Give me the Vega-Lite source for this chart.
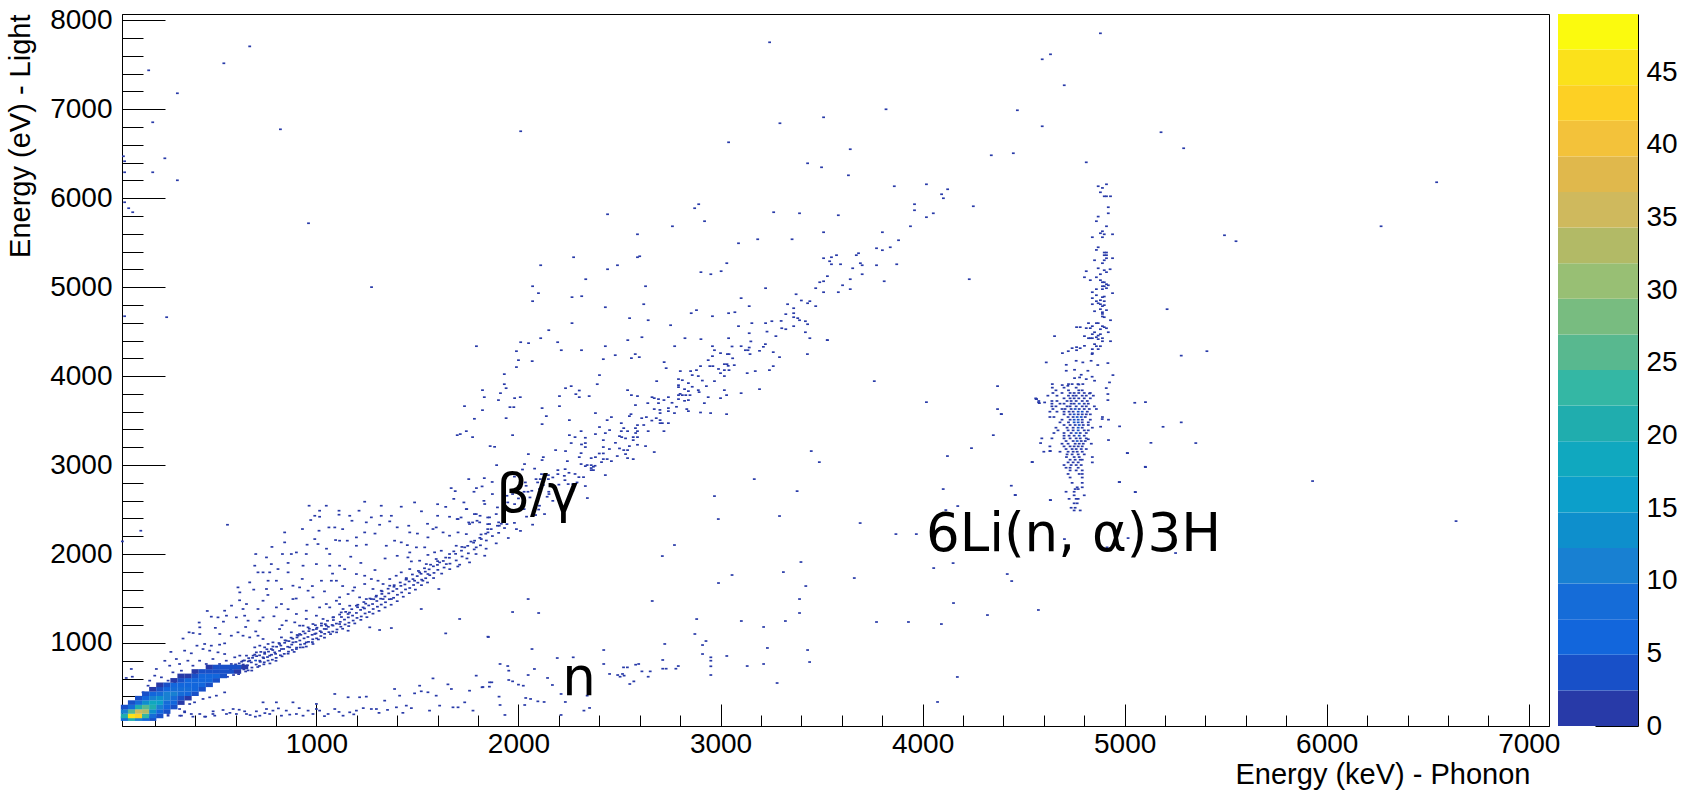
{"$schema":"https://vega.github.io/schema/vega-lite/v6.json","padding":{"left":5,"top":5,"right":0,"bottom":0},"background":"white","bounds":"flush","spacing":9,"config":{"axis":{"grid":false,"domainColor":"black","tickColor":"black","labelColor":"black","titleColor":"black","labelFont":"Liberation Sans","titleFont":"Liberation Sans","labelFontSize":28,"titleFontSize":29,"titleFontWeight":"normal","tickWidth":1,"domainWidth":1,"format":"d"},"view":{"stroke":"black"}},"datasets":{"cells":[
{"x":670,"y":7707,"n":1},{"x":542,"y":7516,"n":1},{"x":170,"y":7437,"n":1},{"x":312,"y":7179,"n":1},{"x":190,"y":6853,"n":1},{"x":822,"y":6774,"n":1},{"x":2011,"y":6752,"n":1},{"x":250,"y":6448,"n":1},{"x":45,"y":6471,"n":1},{"x":51,"y":6415,"n":1},{"x":51,"y":6291,"n":1},{"x":190,"y":6291,"n":1},{"x":312,"y":6201,"n":1},{"x":51,"y":5954,"n":1},{"x":71,"y":5887,"n":1},{"x":91,"y":5842,"n":1},{"x":961,"y":5718,"n":1},{"x":1273,"y":5000,"n":1},{"x":51,"y":4673,"n":1},{"x":259,"y":4662,"n":1},{"x":3243,"y":7752,"n":1},{"x":3294,"y":6842,"n":1},{"x":3040,"y":6628,"n":1},{"x":3431,"y":6392,"n":1},{"x":3500,"y":6347,"n":1},{"x":2441,"y":5819,"n":1},{"x":2892,"y":5932,"n":1},{"x":2872,"y":5887,"n":1},{"x":3263,"y":5842,"n":1},{"x":3391,"y":5830,"n":1},{"x":2921,"y":5741,"n":1},{"x":2762,"y":5684,"n":1},{"x":2589,"y":5594,"n":1},{"x":3089,"y":5493,"n":1},{"x":3184,"y":5538,"n":1},{"x":3354,"y":5538,"n":1},{"x":2273,"y":5336,"n":1},{"x":2600,"y":5347,"n":1},{"x":2589,"y":5336,"n":1},{"x":2110,"y":5246,"n":1},{"x":2490,"y":5246,"n":1},{"x":2441,"y":5201,"n":1},{"x":3031,"y":5269,"n":1},{"x":2903,"y":5168,"n":1},{"x":2952,"y":5145,"n":1},{"x":3003,"y":5179,"n":1},{"x":2333,"y":5089,"n":1},{"x":2070,"y":5010,"n":1},{"x":2629,"y":5010,"n":1},{"x":3223,"y":4988,"n":1},{"x":3491,"y":5055,"n":1},{"x":3471,"y":4988,"n":1},{"x":2099,"y":4932,"n":1},{"x":2265,"y":4887,"n":1},{"x":2313,"y":4898,"n":1},{"x":2070,"y":4842,"n":1},{"x":2430,"y":4774,"n":1},{"x":2620,"y":4808,"n":1},{"x":3102,"y":4876,"n":1},{"x":3374,"y":4920,"n":1},{"x":3442,"y":4842,"n":1},{"x":3431,"y":4819,"n":1},{"x":3332,"y":4808,"n":1},{"x":3142,"y":4786,"n":1},{"x":3471,"y":4786,"n":1},{"x":3362,"y":4763,"n":1},{"x":2881,"y":4741,"n":1},{"x":2855,"y":4707,"n":1},{"x":3040,"y":4707,"n":1},{"x":3071,"y":4718,"n":1},{"x":3323,"y":4696,"n":1},{"x":3362,"y":4707,"n":1},{"x":2960,"y":4673,"n":1},{"x":3362,"y":4662,"n":1},{"x":3382,"y":4651,"n":1},{"x":2550,"y":4651,"n":1},{"x":2642,"y":4628,"n":1},{"x":3391,"y":4628,"n":1},{"x":3420,"y":4617,"n":1},{"x":3254,"y":4617,"n":1},{"x":2265,"y":4595,"n":1},{"x":3155,"y":4595,"n":1},{"x":3223,"y":4595,"n":1},{"x":3431,"y":4583,"n":1},{"x":2753,"y":4572,"n":1},{"x":3089,"y":4561,"n":1},{"x":3362,"y":4561,"n":1},{"x":3303,"y":4538,"n":1},{"x":3323,"y":4527,"n":1},{"x":2150,"y":4516,"n":1},{"x":3420,"y":4493,"n":1},{"x":3142,"y":4482,"n":1},{"x":3274,"y":4449,"n":1},{"x":2110,"y":4426,"n":1},{"x":2611,"y":4437,"n":1},{"x":2824,"y":4426,"n":1},{"x":2903,"y":4415,"n":1},{"x":3040,"y":4426,"n":1},{"x":3442,"y":4426,"n":1},{"x":2541,"y":4404,"n":1},{"x":2011,"y":4381,"n":1},{"x":2050,"y":4370,"n":1},{"x":2194,"y":4381,"n":1},
{"x":4880,"y":7853,"n":1},{"x":4633,"y":7617,"n":1},{"x":4592,"y":7561,"n":1},{"x":4701,"y":7269,"n":1},{"x":3819,"y":6999,"n":1},{"x":3510,"y":6909,"n":1},{"x":4469,"y":6988,"n":1},{"x":4592,"y":6808,"n":1},{"x":5180,"y":6741,"n":1},{"x":5292,"y":6561,"n":1},{"x":3642,"y":6550,"n":1},{"x":4340,"y":6482,"n":1},{"x":4449,"y":6505,"n":1},{"x":4810,"y":6403,"n":1},{"x":3633,"y":6257,"n":1},{"x":3860,"y":6134,"n":1},{"x":4019,"y":6156,"n":1},{"x":4124,"y":6100,"n":1},{"x":4094,"y":6044,"n":1},{"x":4103,"y":5999,"n":1},{"x":3960,"y":5932,"n":1},{"x":3960,"y":5864,"n":1},{"x":4251,"y":5909,"n":1},{"x":4053,"y":5830,"n":1},{"x":4019,"y":5786,"n":1},{"x":3583,"y":5808,"n":1},{"x":3940,"y":5684,"n":1},{"x":3510,"y":5617,"n":1},{"x":3801,"y":5617,"n":1},{"x":3881,"y":5527,"n":1},{"x":3840,"y":5448,"n":1},{"x":3772,"y":5437,"n":1},{"x":3801,"y":5415,"n":1},{"x":3683,"y":5381,"n":1},{"x":3672,"y":5359,"n":1},{"x":3574,"y":5359,"n":1},{"x":3510,"y":5325,"n":1},{"x":3549,"y":5336,"n":1},{"x":3540,"y":5291,"n":1},{"x":3549,"y":5257,"n":1},{"x":3594,"y":5257,"n":1},{"x":3692,"y":5269,"n":1},{"x":3701,"y":5246,"n":1},{"x":3772,"y":5246,"n":1},{"x":3872,"y":5257,"n":1},{"x":3654,"y":5212,"n":1},{"x":3701,"y":5145,"n":1},{"x":3529,"y":5123,"n":1},{"x":3642,"y":5089,"n":1},{"x":3810,"y":5066,"n":1},{"x":4231,"y":5089,"n":1},{"x":3510,"y":5066,"n":1},{"x":3604,"y":5021,"n":1},{"x":3642,"y":4977,"n":1},{"x":3510,"y":4943,"n":1},{"x":3583,"y":4943,"n":1},{"x":3529,"y":4404,"n":1},{"x":4653,"y":4449,"n":1},{"x":5407,"y":4280,"n":1},{"x":5210,"y":4752,"n":1},{"x":6544,"y":6179,"n":1},{"x":6269,"y":5684,"n":1},{"x":5494,"y":5583,"n":1},{"x":5551,"y":5516,"n":1},
{"x":4910,"y":6156,"n":1},{"x":4869,"y":6134,"n":1},{"x":4890,"y":6115,"n":2},{"x":4880,"y":6066,"n":1},{"x":4899,"y":6021,"n":1},{"x":4910,"y":6021,"n":1},{"x":4930,"y":6021,"n":1},{"x":4919,"y":5898,"n":1},{"x":4919,"y":5830,"n":1},{"x":4869,"y":5793,"n":2},{"x":4860,"y":5741,"n":1},{"x":4910,"y":5684,"n":1},{"x":4890,"y":5628,"n":1},{"x":4880,"y":5606,"n":1},{"x":4899,"y":5594,"n":1},{"x":4940,"y":5594,"n":1},{"x":4840,"y":5561,"n":1},{"x":4890,"y":5561,"n":1},{"x":4869,"y":5448,"n":1},{"x":4860,"y":5418,"n":2},{"x":4899,"y":5389,"n":1},{"x":4910,"y":5389,"n":1},{"x":4899,"y":5359,"n":1},{"x":4910,"y":5359,"n":1},{"x":4910,"y":5325,"n":1},{"x":4940,"y":5325,"n":1},{"x":4851,"y":5302,"n":1},{"x":4899,"y":5302,"n":1},{"x":4890,"y":5269,"n":1},{"x":4869,"y":5212,"n":1},{"x":4928,"y":5201,"n":1},{"x":4899,"y":5190,"n":1},{"x":4910,"y":5168,"n":1},{"x":4810,"y":5179,"n":1},{"x":4880,"y":5145,"n":1},{"x":4801,"y":5111,"n":1},{"x":4860,"y":5111,"n":1},{"x":4830,"y":5078,"n":1},{"x":4880,"y":5078,"n":1},{"x":4890,"y":5055,"n":1},{"x":4899,"y":5055,"n":1},{"x":4910,"y":5033,"n":1},{"x":4919,"y":5021,"n":1},{"x":4890,"y":5010,"n":1},{"x":4899,"y":5010,"n":1},{"x":4910,"y":4988,"n":1},{"x":4860,"y":4977,"n":1},{"x":4890,"y":4977,"n":1},{"x":4840,"y":4943,"n":2},{"x":4940,"y":4932,"n":1},{"x":4860,"y":4909,"n":1},{"x":4899,"y":4894,"n":2},{"x":4890,"y":4887,"n":1},{"x":4840,"y":4876,"n":1},{"x":4880,"y":4853,"n":1},{"x":4860,"y":4842,"n":1},{"x":4899,"y":4842,"n":2},{"x":4869,"y":4819,"n":1},{"x":4840,"y":4808,"n":1},{"x":4880,"y":4808,"n":1},{"x":4899,"y":4797,"n":1},{"x":4890,"y":4786,"n":1},{"x":4880,"y":4752,"n":1},{"x":4910,"y":4741,"n":1},{"x":4851,"y":4729,"n":2},{"x":4890,"y":4718,"n":1},{"x":4890,"y":4699,"n":1},{"x":4890,"y":4670,"n":1},{"x":4899,"y":4662,"n":1},{"x":4930,"y":4628,"n":1},{"x":4821,"y":4595,"n":1},{"x":4860,"y":4595,"n":1},{"x":4869,"y":4595,"n":1},{"x":4840,"y":4561,"n":1},{"x":4890,"y":4561,"n":1},{"x":4899,"y":4550,"n":1},{"x":4910,"y":4538,"n":1},{"x":4762,"y":4550,"n":1},{"x":4780,"y":4550,"n":1},{"x":4810,"y":4539,"n":1},{"x":4830,"y":4539,"n":1},{"x":4880,"y":4527,"n":1},{"x":4851,"y":4493,"n":2},{"x":4919,"y":4493,"n":1},{"x":4840,"y":4471,"n":1},{"x":4880,"y":4471,"n":1},{"x":4801,"y":4449,"n":1},{"x":4869,"y":4456,"n":1},{"x":4821,"y":4426,"n":1},{"x":4830,"y":4426,"n":1},{"x":4840,"y":4426,"n":1},{"x":4860,"y":4437,"n":1},{"x":4869,"y":4415,"n":1},{"x":4890,"y":4426,"n":1},{"x":4930,"y":4392,"n":1},{"x":4890,"y":4392,"n":1},{"x":4801,"y":4340,"n":2},{"x":4851,"y":4359,"n":1},{"x":4880,"y":4336,"n":1},{"x":4860,"y":4336,"n":1},{"x":4740,"y":4314,"n":1},{"x":4762,"y":4325,"n":1},{"x":4780,"y":4314,"n":1},{"x":4840,"y":4303,"n":1},{"x":4869,"y":4303,"n":1},{"x":4762,"y":4291,"n":1},{"x":4721,"y":4280,"n":1},{"x":4692,"y":4258,"n":1},{"x":4840,"y":4258,"n":1},
{"x":4839,"y":4247,"n":1},{"x":4612,"y":4154,"n":1},{"x":4711,"y":4127,"n":1},{"x":4760,"y":4172,"n":1},{"x":4793,"y":4154,"n":1},{"x":4834,"y":4172,"n":1},{"x":4917,"y":4146,"n":1},{"x":4711,"y":4060,"n":1},{"x":4752,"y":4071,"n":1},{"x":4785,"y":4015,"n":1},{"x":4818,"y":4060,"n":1},{"x":4839,"y":3993,"n":1},{"x":4867,"y":4124,"n":1},{"x":4752,"y":3977,"n":1},{"x":4777,"y":3985,"n":1},{"x":4810,"y":3966,"n":1},{"x":4851,"y":3948,"n":1},{"x":4942,"y":4011,"n":1},{"x":4925,"y":3929,"n":1},{"x":4740,"y":3910,"n":1},{"x":4691,"y":3899,"n":1},{"x":4719,"y":3891,"n":1},{"x":4769,"y":3910,"n":1},{"x":4793,"y":3910,"n":1},{"x":4826,"y":3805,"n":1},{"x":4909,"y":3865,"n":1},{"x":4917,"y":3798,"n":1},{"x":4917,"y":3730,"n":1},{"x":5103,"y":3708,"n":1},{"x":4389,"y":3573,"n":1},{"x":4562,"y":3742,"n":1},{"x":4574,"y":3704,"n":1},{"x":4604,"y":3704,"n":1},{"x":4975,"y":3435,"n":1},{"x":4889,"y":3517,"n":1},{"x":4881,"y":3431,"n":1},{"x":4920,"y":3281,"n":1},{"x":4584,"y":3247,"n":1},{"x":5013,"y":3135,"n":1},{"x":5102,"y":2981,"n":1},{"x":4543,"y":3034,"n":1},{"x":4632,"y":3158,"n":1},{"x":4975,"y":2809,"n":1},{"x":5052,"y":2697,"n":1},{"x":4439,"y":2768,"n":1},{"x":4459,"y":2663,"n":1},{"x":4632,"y":2607,"n":1},
{"x":4642,"y":3910,"n":1},{"x":4722,"y":3910,"n":1},{"x":4773,"y":3905,"n":1},{"x":4642,"y":3870,"n":1},{"x":4700,"y":3870,"n":1},{"x":4760,"y":3870,"n":2},{"x":4660,"y":3840,"n":1},{"x":4722,"y":3840,"n":1},{"x":4773,"y":3840,"n":2},{"x":4790,"y":3840,"n":1},{"x":4645,"y":3810,"n":1},{"x":4690,"y":3810,"n":1},{"x":4730,"y":3810,"n":1},{"x":4750,"y":3810,"n":1},{"x":4773,"y":3810,"n":2},{"x":4800,"y":3810,"n":1},{"x":4830,"y":3810,"n":1},{"x":4620,"y":3780,"n":1},{"x":4665,"y":3780,"n":1},{"x":4722,"y":3780,"n":1},{"x":4745,"y":3780,"n":1},{"x":4760,"y":3780,"n":2},{"x":4790,"y":3780,"n":1},{"x":4810,"y":3780,"n":1},{"x":4845,"y":3780,"n":1},{"x":4560,"y":3750,"n":1},{"x":4700,"y":3750,"n":1},{"x":4730,"y":3750,"n":1},{"x":4750,"y":3750,"n":2},{"x":4773,"y":3750,"n":2},{"x":4800,"y":3750,"n":1},{"x":4830,"y":3750,"n":1},{"x":4575,"y":3720,"n":1},{"x":4640,"y":3720,"n":1},{"x":4665,"y":3720,"n":1},{"x":4715,"y":3720,"n":1},{"x":4735,"y":3720,"n":2},{"x":4760,"y":3720,"n":1},{"x":4790,"y":3720,"n":2},{"x":4815,"y":3720,"n":1},{"x":4640,"y":3690,"n":1},{"x":4680,"y":3690,"n":1},{"x":4700,"y":3690,"n":1},{"x":4735,"y":3690,"n":1},{"x":4750,"y":3690,"n":2},{"x":4775,"y":3690,"n":3},{"x":4800,"y":3690,"n":1},{"x":4820,"y":3690,"n":1},{"x":4640,"y":3660,"n":1},{"x":4660,"y":3660,"n":1},{"x":4715,"y":3660,"n":1},{"x":4730,"y":3660,"n":1},{"x":4760,"y":3660,"n":2},{"x":4790,"y":3660,"n":2},{"x":4810,"y":3660,"n":1},{"x":4850,"y":3660,"n":1},{"x":4645,"y":3630,"n":1},{"x":4690,"y":3630,"n":1},{"x":4705,"y":3630,"n":2},{"x":4735,"y":3630,"n":1},{"x":4755,"y":3630,"n":3},{"x":4775,"y":3630,"n":2},{"x":4800,"y":3630,"n":1},{"x":4825,"y":3630,"n":1},{"x":4860,"y":3630,"n":1},{"x":4630,"y":3600,"n":1},{"x":4665,"y":3600,"n":1},{"x":4700,"y":3600,"n":1},{"x":4725,"y":3600,"n":2},{"x":4745,"y":3600,"n":1},{"x":4770,"y":3600,"n":3},{"x":4790,"y":3600,"n":3},{"x":4815,"y":3600,"n":1},{"x":4700,"y":3570,"n":2},{"x":4730,"y":3570,"n":1},{"x":4750,"y":3570,"n":3},{"x":4770,"y":3570,"n":2},{"x":4790,"y":3570,"n":2},{"x":4810,"y":3570,"n":1},{"x":4830,"y":3570,"n":1},{"x":4630,"y":3540,"n":1},{"x":4650,"y":3540,"n":1},{"x":4720,"y":3540,"n":1},{"x":4745,"y":3540,"n":2},{"x":4765,"y":3540,"n":4},{"x":4785,"y":3540,"n":3},{"x":4805,"y":3540,"n":1},{"x":4890,"y":3540,"n":1},{"x":4690,"y":3510,"n":1},{"x":4730,"y":3510,"n":1},{"x":4750,"y":3510,"n":3},{"x":4770,"y":3510,"n":3},{"x":4790,"y":3510,"n":2},{"x":4830,"y":3510,"n":1},{"x":4920,"y":3510,"n":1},{"x":4680,"y":3480,"n":1},{"x":4722,"y":3480,"n":1},{"x":4750,"y":3480,"n":3},{"x":4770,"y":3480,"n":4},{"x":4790,"y":3480,"n":2},{"x":4820,"y":3480,"n":1},{"x":4700,"y":3450,"n":1},{"x":4730,"y":3450,"n":1},{"x":4755,"y":3450,"n":2},{"x":4775,"y":3450,"n":4},{"x":4795,"y":3450,"n":2},{"x":4820,"y":3450,"n":1},{"x":4660,"y":3420,"n":1},{"x":4715,"y":3420,"n":1},{"x":4745,"y":3420,"n":2},{"x":4770,"y":3420,"n":3},{"x":4790,"y":3420,"n":2},{"x":4840,"y":3420,"n":1},{"x":4670,"y":3390,"n":1},{"x":4720,"y":3390,"n":1},{"x":4745,"y":3390,"n":1},{"x":4770,"y":3390,"n":3},{"x":4800,"y":3390,"n":2},{"x":4820,"y":3390,"n":1},{"x":4650,"y":3360,"n":2},{"x":4700,"y":3360,"n":1},{"x":4735,"y":3360,"n":1},{"x":4760,"y":3360,"n":3},{"x":4780,"y":3360,"n":2},{"x":4810,"y":3360,"n":1},{"x":4700,"y":3330,"n":1},{"x":4725,"y":3330,"n":1},{"x":4750,"y":3330,"n":2},{"x":4775,"y":3330,"n":3},{"x":4800,"y":3330,"n":1},{"x":4590,"y":3300,"n":1},{"x":4640,"y":3300,"n":1},{"x":4700,"y":3300,"n":1},{"x":4730,"y":3300,"n":2},{"x":4760,"y":3300,"n":2},{"x":4780,"y":3300,"n":2},{"x":4810,"y":3300,"n":2},{"x":4820,"y":3290,"n":1},{"x":4710,"y":3270,"n":1},{"x":4745,"y":3270,"n":1},{"x":4765,"y":3270,"n":3},{"x":4785,"y":3270,"n":1},{"x":4805,"y":3270,"n":1},{"x":4690,"y":3240,"n":1},{"x":4720,"y":3240,"n":1},{"x":4755,"y":3240,"n":1},{"x":4775,"y":3240,"n":2},{"x":4795,"y":3240,"n":1},{"x":4835,"y":3240,"n":1},{"x":4630,"y":3210,"n":1},{"x":4700,"y":3210,"n":1},{"x":4730,"y":3210,"n":1},{"x":4750,"y":3210,"n":1},{"x":4770,"y":3210,"n":1},{"x":4790,"y":3210,"n":1},{"x":4710,"y":3180,"n":1},{"x":4740,"y":3180,"n":1},{"x":4760,"y":3180,"n":2},{"x":4785,"y":3180,"n":1},{"x":4810,"y":3180,"n":1},{"x":4600,"y":3150,"n":1},{"x":4680,"y":3150,"n":1},{"x":4720,"y":3150,"n":1},{"x":4745,"y":3150,"n":1},{"x":4765,"y":3150,"n":1},{"x":4790,"y":3150,"n":1},{"x":4715,"y":3120,"n":1},{"x":4740,"y":3120,"n":2},{"x":4770,"y":3120,"n":1},{"x":4800,"y":3120,"n":1},{"x":4712,"y":3090,"n":2},{"x":4750,"y":3090,"n":1},{"x":4775,"y":3090,"n":1},{"x":4840,"y":3090,"n":1},{"x":4730,"y":3060,"n":1},{"x":4755,"y":3060,"n":2},{"x":4780,"y":3060,"n":1},{"x":4790,"y":3060,"n":1},{"x":4720,"y":3030,"n":1},{"x":4745,"y":3030,"n":1},{"x":4770,"y":3030,"n":1},{"x":4840,"y":3030,"n":1},{"x":4700,"y":3000,"n":1},{"x":4735,"y":3000,"n":1},{"x":4760,"y":3000,"n":1},{"x":4785,"y":3000,"n":1},{"x":4710,"y":2970,"n":1},{"x":4730,"y":2970,"n":1},{"x":4770,"y":2970,"n":1},{"x":4730,"y":2940,"n":1},{"x":4760,"y":2940,"n":1},{"x":4790,"y":2940,"n":1},{"x":4720,"y":2900,"n":1},{"x":4775,"y":2900,"n":1},{"x":4790,"y":2900,"n":1},{"x":4730,"y":2860,"n":1},{"x":4790,"y":2860,"n":1},{"x":4740,"y":2800,"n":1},{"x":4790,"y":2800,"n":1},{"x":4765,"y":2750,"n":1},{"x":4790,"y":2750,"n":1},{"x":4755,"y":2730,"n":1},{"x":4770,"y":2730,"n":1},{"x":4710,"y":2700,"n":1},{"x":4750,"y":2700,"n":1},{"x":4750,"y":2660,"n":1},{"x":4800,"y":2660,"n":1},{"x":4725,"y":2620,"n":1},{"x":4760,"y":2620,"n":1},{"x":4770,"y":2620,"n":1},{"x":4750,"y":2570,"n":1},{"x":4765,"y":2570,"n":1},{"x":4735,"y":2520,"n":1},{"x":4755,"y":2520,"n":1},{"x":4750,"y":2490,"n":1},{"x":4780,"y":2490,"n":1},
{"x":1792,"y":4336,"n":1},{"x":1990,"y":4280,"n":1},{"x":2212,"y":4291,"n":1},{"x":2312,"y":4291,"n":1},{"x":2430,"y":4336,"n":1},{"x":2773,"y":4336,"n":1},{"x":2960,"y":4336,"n":1},{"x":2970,"y":4291,"n":1},{"x":3000,"y":4258,"n":1},{"x":3034,"y":4247,"n":1},{"x":3042,"y":4247,"n":1},{"x":3057,"y":4333,"n":1},{"x":3102,"y":4336,"n":1},{"x":3123,"y":4291,"n":1},{"x":3136,"y":4291,"n":1},{"x":3142,"y":4321,"n":1},{"x":3146,"y":4247,"n":1},{"x":3193,"y":4284,"n":1},{"x":3212,"y":4329,"n":1},{"x":3222,"y":4359,"n":1},{"x":3261,"y":4269,"n":1},{"x":3292,"y":4213,"n":1},{"x":3430,"y":4247,"n":1},{"x":3528,"y":4404,"n":1},{"x":2000,"y":4179,"n":1},{"x":2068,"y":4168,"n":1},{"x":1990,"y":4101,"n":1},{"x":2420,"y":4190,"n":1},{"x":2479,"y":4235,"n":1},{"x":2559,"y":4202,"n":1},{"x":2578,"y":4247,"n":1},{"x":2598,"y":4213,"n":1},{"x":2721,"y":4157,"n":1},{"x":2731,"y":4089,"n":1},{"x":2801,"y":4056,"n":1},{"x":2852,"y":4056,"n":1},{"x":2881,"y":4067,"n":1},{"x":2860,"y":4011,"n":1},{"x":2890,"y":4000,"n":1},{"x":2901,"y":4112,"n":1},{"x":2939,"y":4179,"n":1},{"x":2960,"y":4224,"n":1},{"x":2947,"y":4112,"n":1},{"x":2962,"y":4112,"n":1},{"x":3000,"y":4033,"n":1},{"x":3019,"y":4134,"n":1},{"x":3032,"y":4134,"n":1},{"x":3038,"y":4115,"n":1},{"x":3068,"y":4123,"n":1},{"x":3019,"y":4067,"n":1},{"x":3042,"y":4067,"n":1},{"x":3019,"y":4000,"n":1},{"x":3132,"y":4033,"n":1},{"x":3172,"y":4056,"n":1},{"x":3242,"y":4067,"n":1},{"x":3261,"y":4112,"n":1},{"x":1930,"y":4022,"n":1},{"x":2401,"y":4011,"n":1},{"x":1930,"y":3909,"n":1},{"x":1939,"y":3864,"n":1},{"x":2390,"y":3909,"n":1},{"x":1822,"y":3842,"n":1},{"x":1911,"y":3808,"n":1},{"x":1831,"y":3763,"n":1},{"x":1901,"y":3730,"n":1},{"x":1981,"y":3752,"n":1},{"x":2009,"y":3763,"n":1},{"x":2233,"y":3864,"n":1},{"x":2261,"y":3887,"n":1},{"x":2301,"y":3838,"n":2},{"x":2284,"y":3797,"n":1},{"x":2301,"y":3763,"n":1},{"x":2350,"y":3775,"n":1},{"x":2203,"y":3775,"n":1},{"x":1733,"y":3662,"n":1},{"x":1822,"y":3617,"n":1},{"x":1958,"y":3651,"n":1},{"x":1977,"y":3651,"n":1},{"x":2117,"y":3640,"n":1},{"x":2203,"y":3662,"n":1},{"x":1782,"y":3520,"n":1},{"x":1939,"y":3527,"n":1},{"x":2138,"y":3550,"n":1},{"x":2117,"y":3460,"n":1},{"x":2252,"y":3505,"n":1},{"x":2381,"y":3584,"n":1},{"x":2439,"y":3505,"n":1},{"x":2460,"y":3539,"n":1},{"x":2557,"y":3572,"n":1},{"x":2549,"y":3550,"n":1},{"x":2610,"y":3527,"n":1},{"x":2633,"y":3539,"n":1},{"x":2540,"y":3842,"n":1},{"x":2559,"y":3786,"n":1},{"x":2589,"y":3775,"n":1},{"x":2579,"y":3674,"n":1},{"x":2640,"y":3696,"n":1},{"x":2661,"y":3763,"n":1},{"x":2672,"y":3752,"n":1},{"x":2693,"y":3741,"n":1},{"x":2720,"y":3730,"n":1},{"x":2742,"y":3763,"n":1},{"x":2672,"y":3629,"n":1},{"x":2693,"y":3696,"n":1},{"x":2684,"y":3943,"n":1},{"x":2792,"y":3966,"n":1},{"x":2811,"y":3954,"n":1},{"x":2792,"y":3898,"n":1},{"x":2792,"y":3876,"n":1},{"x":2822,"y":3853,"n":1},{"x":2841,"y":3921,"n":1},{"x":2841,"y":3831,"n":1},{"x":2890,"y":3842,"n":1},{"x":2894,"y":3820,"n":1},{"x":2930,"y":3887,"n":1},{"x":2970,"y":3943,"n":1},{"x":3019,"y":3842,"n":1},{"x":3030,"y":3786,"n":1},{"x":3000,"y":3752,"n":1},{"x":2939,"y":3763,"n":1},{"x":3102,"y":3808,"n":2},{"x":3193,"y":3853,"n":1},{"x":2792,"y":3786,"n":1},{"x":2811,"y":3786,"n":1},{"x":2828,"y":3786,"n":1},{"x":2849,"y":3786,"n":1},{"x":2792,"y":3741,"n":1},{"x":2822,"y":3722,"n":1},{"x":2841,"y":3730,"n":1},{"x":2742,"y":3640,"n":1},{"x":2782,"y":3655,"n":1},{"x":2742,"y":3606,"n":1},{"x":2772,"y":3584,"n":1},{"x":2833,"y":3629,"n":1},{"x":2841,"y":3606,"n":1},{"x":2901,"y":3591,"n":1},{"x":2951,"y":3584,"n":1},{"x":3030,"y":3572,"n":1},{"x":2920,"y":3696,"n":1},{"x":2701,"y":3584,"n":2},{"x":2682,"y":3527,"n":1},{"x":2701,"y":3505,"n":1},{"x":2701,"y":3471,"n":1},{"x":2712,"y":3471,"n":1},{"x":2742,"y":3471,"n":1},{"x":2720,"y":3381,"n":1},{"x":2642,"y":3381,"n":1},{"x":2589,"y":3449,"n":1},{"x":2579,"y":3415,"n":1},{"x":2589,"y":3381,"n":1},{"x":2509,"y":3471,"n":1},{"x":2521,"y":3415,"n":1},{"x":2509,"y":3381,"n":1},{"x":2540,"y":3381,"n":1},{"x":2451,"y":3393,"n":1},{"x":2401,"y":3427,"n":1},{"x":2381,"y":3348,"n":1},{"x":2430,"y":3359,"n":1},{"x":2310,"y":3381,"n":1},{"x":2331,"y":3307,"n":1},{"x":2280,"y":3314,"n":1},{"x":2252,"y":3336,"n":1},{"x":2312,"y":3232,"n":1},{"x":2261,"y":3247,"n":1},{"x":2331,"y":3247,"n":1},{"x":2331,"y":3202,"n":1},{"x":2420,"y":3280,"n":1},{"x":2420,"y":3202,"n":1},{"x":2500,"y":3325,"n":1},{"x":2511,"y":3314,"n":1},{"x":2568,"y":3280,"n":1},{"x":2589,"y":3314,"n":1},{"x":2568,"y":3314,"n":1},{"x":2589,"y":3228,"n":1},{"x":2549,"y":3213,"n":1},{"x":2629,"y":3213,"n":1},{"x":2672,"y":3146,"n":1},{"x":2500,"y":3187,"n":1},{"x":2521,"y":3168,"n":1},{"x":2540,"y":3168,"n":1},{"x":2530,"y":3123,"n":1},{"x":2540,"y":3078,"n":1},{"x":2568,"y":3067,"n":1},{"x":2489,"y":3101,"n":1},{"x":2460,"y":3044,"n":1},{"x":2439,"y":3067,"n":1},{"x":2420,"y":3067,"n":1},{"x":2411,"y":3033,"n":1},{"x":2381,"y":3089,"n":1},{"x":2360,"y":3078,"n":1},{"x":2420,"y":3131,"n":1},{"x":2301,"y":3089,"n":1},{"x":2310,"y":3134,"n":1},{"x":2242,"y":3044,"n":1},{"x":2233,"y":3157,"n":1},{"x":2184,"y":3168,"n":1},{"x":2123,"y":3089,"n":1},{"x":2117,"y":3056,"n":1},{"x":2049,"y":3123,"n":1},{"x":1860,"y":3213,"n":1},{"x":1882,"y":3205,"n":1},{"x":1971,"y":3336,"n":1},{"x":1773,"y":3314,"n":1},{"x":1742,"y":3381,"n":1},{"x":1697,"y":3336,"n":1},{"x":1712,"y":3348,"n":1},{"x":1892,"y":2999,"n":1},{"x":2030,"y":3011,"n":1},{"x":2310,"y":3011,"n":1},{"x":2331,"y":2988,"n":1},{"x":2360,"y":2999,"n":1},{"x":2360,"y":2966,"n":1},{"x":2371,"y":2981,"n":1},{"x":2360,"y":2943,"n":1},{"x":2371,"y":2943,"n":1},{"x":2379,"y":2992,"n":1},{"x":2430,"y":2887,"n":1},{"x":2299,"y":2864,"n":1},{"x":2322,"y":2864,"n":1},{"x":2290,"y":2805,"n":1},{"x":2269,"y":2786,"n":1},{"x":2331,"y":2764,"n":1},{"x":2341,"y":2629,"n":1},{"x":1754,"y":2842,"n":1},{"x":1831,"y":2853,"n":1},{"x":1667,"y":2741,"n":1},{"x":1687,"y":2707,"n":1},{"x":1792,"y":2741,"n":1},{"x":3761,"y":3943,"n":1},{"x":4371,"y":3887,"n":1},{"x":4019,"y":3707,"n":1},{"x":4564,"y":3741,"n":1},{"x":4578,"y":3696,"n":1},{"x":4371,"y":3629,"n":1},{"x":4390,"y":3572,"n":1},{"x":4350,"y":3336,"n":1},{"x":4242,"y":3190,"n":1},{"x":3449,"y":3157,"n":1},{"x":3489,"y":3033,"n":1},{"x":4123,"y":3101,"n":1},{"x":3167,"y":2842,"n":2},{"x":3379,"y":2707,"n":1},{"x":2970,"y":2651,"n":1},{"x":4102,"y":2730,"n":1},{"x":3292,"y":2427,"n":1},{"x":2989,"y":2393,"n":1},{"x":3691,"y":2348,"n":1},{"x":4174,"y":2539,"n":1},{"x":4115,"y":2494,"n":1},{"x":5930,"y":2820,"n":1},{"x":6640,"y":2370,"n":1},{"x":5280,"y":4230,"n":1},{"x":5050,"y":3700,"n":1},{"x":5280,"y":3480,"n":1},{"x":5130,"y":3250,"n":1},{"x":5190,"y":3430,"n":1},
{"x":2148,"y":2887,"n":1},{"x":2114,"y":2898,"n":1},{"x":2195,"y":2943,"n":1},{"x":2195,"y":2898,"n":1},{"x":2231,"y":2954,"n":1},{"x":2250,"y":2913,"n":1},{"x":2227,"y":2879,"n":1},{"x":2087,"y":2842,"n":1},{"x":2108,"y":2842,"n":1},{"x":2148,"y":2842,"n":1},{"x":2170,"y":2861,"n":1},{"x":2034,"y":2805,"n":1},{"x":2038,"y":2767,"n":1},{"x":2095,"y":2805,"n":1},{"x":2123,"y":2775,"n":1},{"x":2246,"y":2786,"n":1},{"x":2028,"y":2700,"n":1},{"x":2047,"y":2700,"n":1},{"x":2066,"y":2711,"n":1},{"x":2104,"y":2730,"n":1},{"x":2151,"y":2674,"n":1},{"x":1943,"y":2655,"n":1},{"x":1971,"y":2674,"n":1},{"x":2000,"y":2625,"n":1},{"x":2057,"y":2636,"n":1},{"x":2142,"y":2644,"n":1},{"x":2170,"y":2598,"n":1},{"x":2269,"y":2711,"n":1},{"x":1829,"y":2598,"n":1},{"x":1896,"y":2524,"n":1},{"x":1947,"y":2580,"n":1},{"x":1981,"y":2561,"n":1},{"x":2028,"y":2505,"n":1},{"x":2104,"y":2543,"n":1},{"x":2129,"y":2449,"n":1},{"x":2085,"y":2438,"n":1},{"x":1744,"y":2505,"n":1},{"x":1782,"y":2449,"n":1},{"x":1810,"y":2430,"n":1},{"x":1848,"y":2411,"n":2},{"x":1871,"y":2674,"n":2},{"x":1697,"y":2393,"n":1},{"x":1716,"y":2411,"n":1},{"x":1754,"y":2355,"n":1},{"x":1773,"y":2355,"n":1},{"x":1795,"y":2374,"n":1},{"x":1848,"y":2336,"n":1},{"x":1896,"y":2318,"n":1},{"x":1943,"y":2336,"n":1},{"x":1848,"y":2280,"n":1},{"x":1905,"y":2318,"n":1},{"x":1990,"y":2280,"n":1},
{"x":964,"y":2543,"n":1},{"x":1049,"y":2543,"n":1},{"x":1239,"y":2588,"n":1},{"x":1321,"y":2543,"n":1},{"x":1420,"y":2532,"n":1},{"x":1486,"y":2580,"n":1},{"x":1016,"y":2487,"n":1},{"x":992,"y":2430,"n":1},{"x":1016,"y":2419,"n":1},{"x":1112,"y":2487,"n":1},{"x":1112,"y":2442,"n":1},{"x":1165,"y":2430,"n":1},{"x":1211,"y":2487,"n":1},{"x":1321,"y":2430,"n":1},{"x":1371,"y":2430,"n":1},{"x":1272,"y":2412,"n":1},{"x":972,"y":2382,"n":1},{"x":1091,"y":2299,"n":1},{"x":1176,"y":2374,"n":1},{"x":1313,"y":2329,"n":1},{"x":1363,"y":2367,"n":1},{"x":1247,"y":2356,"n":1},{"x":1457,"y":2318,"n":1},{"x":1593,"y":2299,"n":1},{"x":1659,"y":2419,"n":1},{"x":1701,"y":2393,"n":1},{"x":1742,"y":2505,"n":1},{"x":1791,"y":2449,"n":1},{"x":1833,"y":2562,"n":1},{"x":1758,"y":2337,"n":1},{"x":1808,"y":2356,"n":1},{"x":1857,"y":2412,"n":1},{"x":1857,"y":2337,"n":1},{"x":1890,"y":2449,"n":1},{"x":1902,"y":2356,"n":1},{"x":560,"y":2329,"n":1},{"x":131,"y":2262,"n":1},{"x":40,"y":2142,"n":1},{"x":843,"y":2243,"n":1},{"x":843,"y":2131,"n":1},{"x":931,"y":2281,"n":1},{"x":1013,"y":2262,"n":1},{"x":1062,"y":2299,"n":1},{"x":1239,"y":2243,"n":2},{"x":1198,"y":2187,"n":1},{"x":1153,"y":2150,"n":1},{"x":1115,"y":2150,"n":1},{"x":1095,"y":2157,"n":1},{"x":992,"y":2168,"n":1},{"x":954,"y":2105,"n":1},{"x":1008,"y":2112,"n":1},{"x":1066,"y":2000,"n":1},{"x":876,"y":2000,"n":1},{"x":901,"y":2018,"n":1},{"x":832,"y":2000,"n":1},{"x":1198,"y":2093,"n":1},{"x":1247,"y":2105,"n":1},{"x":1346,"y":2093,"n":1},{"x":1387,"y":2150,"n":1},{"x":1420,"y":2131,"n":1},{"x":1462,"y":2243,"n":1},{"x":1552,"y":2187,"n":1},{"x":1577,"y":2281,"n":1},{"x":1627,"y":2243,"n":1},{"x":1659,"y":2206,"n":1},{"x":1701,"y":2243,"n":1},{"x":1742,"y":2224,"n":1},{"x":1783,"y":2150,"n":1},{"x":1816,"y":2168,"n":1},{"x":1849,"y":2243,"n":1},{"x":1495,"y":2075,"n":1},{"x":1536,"y":2075,"n":1},{"x":1585,"y":2019,"n":1},{"x":1618,"y":2037,"n":1},{"x":1659,"y":2000,"n":1},{"x":1692,"y":2093,"n":1},{"x":1734,"y":2075,"n":1},{"x":1791,"y":2075,"n":1},{"x":1833,"y":1981,"n":1},{"x":1462,"y":2018,"n":1},{"x":1453,"y":1962,"n":1},{"x":1470,"y":1917,"n":1},{"x":1511,"y":1925,"n":1},{"x":1552,"y":1990,"n":1},{"x":1544,"y":1887,"n":1},{"x":1593,"y":1944,"n":1},{"x":1610,"y":1906,"n":1},{"x":1643,"y":1887,"n":1},{"x":1709,"y":1880,"n":1},{"x":1758,"y":1906,"n":1},{"x":1420,"y":1794,"n":1},{"x":1462,"y":1831,"n":1},{"x":1395,"y":1756,"n":1},{"x":1363,"y":1719,"n":1},{"x":1445,"y":1719,"n":1},{"x":1486,"y":1700,"n":1},{"x":1527,"y":1700,"n":1},{"x":1511,"y":1794,"n":1},{"x":1552,"y":1775,"n":1},{"x":1606,"y":1607,"n":1},{"x":1709,"y":1270,"n":2},{"x":1519,"y":1382,"n":1},{"x":1640,"y":1108,"n":1},{"x":1849,"y":1071,"n":1},{"x":695,"y":1869,"n":1},{"x":753,"y":1962,"n":1},{"x":777,"y":1887,"n":1},{"x":711,"y":1794,"n":1},{"x":736,"y":1794,"n":1},{"x":769,"y":1794,"n":1},{"x":810,"y":1831,"n":1},{"x":860,"y":1794,"n":1},{"x":934,"y":1869,"n":1},{"x":1000,"y":1887,"n":1},{"x":1066,"y":1869,"n":1},{"x":1115,"y":1869,"n":1},{"x":1140,"y":1831,"n":1},{"x":1198,"y":1775,"n":1},{"x":1239,"y":1756,"n":1},{"x":1272,"y":1719,"n":1},{"x":1305,"y":1700,"n":1},{"x":1330,"y":1663,"n":1},{"x":1363,"y":1644,"n":1},{"x":1321,"y":1588,"n":1},{"x":1280,"y":1607,"n":1},{"x":1239,"y":1663,"n":1},{"x":1189,"y":1625,"n":1},{"x":1181,"y":1588,"n":1},{"x":1214,"y":1513,"n":1},{"x":1247,"y":1494,"n":2},{"x":1272,"y":1494,"n":2},{"x":1297,"y":1532,"n":1},{"x":1330,"y":1494,"n":1},{"x":1371,"y":1494,"n":1},{"x":761,"y":1700,"n":1},{"x":802,"y":1700,"n":1},{"x":670,"y":1681,"n":1},{"x":612,"y":1625,"n":1},{"x":753,"y":1607,"n":1},{"x":827,"y":1607,"n":1},{"x":884,"y":1644,"n":1},{"x":917,"y":1625,"n":1},{"x":959,"y":1588,"n":1},{"x":1025,"y":1700,"n":1},{"x":1099,"y":1700,"n":1},{"x":1074,"y":1700,"n":1},{"x":1115,"y":1513,"n":1},{"x":1157,"y":1550,"n":1},{"x":1099,"y":1475,"n":1},{"x":1049,"y":1438,"n":1},{"x":1066,"y":1400,"n":1},{"x":1115,"y":1438,"n":1},{"x":1132,"y":1382,"n":1},{"x":1165,"y":1419,"n":1},{"x":1198,"y":1419,"n":1},{"x":1231,"y":1400,"n":1},{"x":983,"y":1513,"n":1},{"x":884,"y":1494,"n":1},{"x":827,"y":1438,"n":1},{"x":802,"y":1400,"n":1},{"x":736,"y":1475,"n":1},{"x":654,"y":1438,"n":1},{"x":621,"y":1569,"n":1},{"x":711,"y":1382,"n":1},{"x":604,"y":1288,"n":1},{"x":546,"y":1363,"n":1},{"x":555,"y":1307,"n":1},{"x":480,"y":1296,"n":1},{"x":513,"y":1288,"n":1},{"x":901,"y":1326,"n":1},{"x":950,"y":1363,"n":1},{"x":1016,"y":1400,"n":1},{"x":1000,"y":1307,"n":1},{"x":950,"y":1270,"n":1},{"x":983,"y":1213,"n":1},{"x":1033,"y":1270,"n":1},{"x":1049,"y":1195,"n":1},{"x":1082,"y":1288,"n":1},{"x":1123,"y":1344,"n":1},{"x":1157,"y":1326,"n":1},{"x":851,"y":1251,"n":1},{"x":893,"y":1232,"n":1},{"x":917,"y":1195,"n":1},{"x":934,"y":1195,"n":1},{"x":959,"y":1176,"n":1},{"x":1000,"y":1157,"n":1},{"x":1025,"y":1195,"n":1},{"x":1049,"y":1157,"n":1},{"x":1025,"y":1120,"n":1},{"x":992,"y":1101,"n":1},{"x":917,"y":1101,"n":1},{"x":876,"y":1120,"n":1},{"x":818,"y":1157,"n":1},{"x":827,"y":1063,"n":1},{"x":1082,"y":1195,"n":1},{"x":1157,"y":1138,"n":1},{"x":1115,"y":1213,"n":1},{"x":1264,"y":1176,"n":1},{"x":1313,"y":1146,"n":1},{"x":1371,"y":1168,"n":1},{"x":662,"y":1251,"n":1},{"x":720,"y":1251,"n":1},{"x":736,"y":1288,"n":1},{"x":645,"y":1307,"n":1},{"x":637,"y":1382,"n":1},{"x":423,"y":1176,"n":1},{"x":390,"y":1112,"n":1},{"x":423,"y":1101,"n":1},{"x":522,"y":1101,"n":1},{"x":579,"y":1082,"n":1},{"x":612,"y":1120,"n":1},{"x":637,"y":1082,"n":1},{"x":670,"y":1063,"n":1},{"x":711,"y":1082,"n":1},{"x":736,"y":1045,"n":1},{"x":785,"y":1007,"n":1},{"x":761,"y":989,"n":1},{"x":818,"y":989,"n":1},{"x":851,"y":1026,"n":1},{"x":884,"y":1007,"n":1},{"x":909,"y":1082,"n":1},{"x":950,"y":1007,"n":1},{"x":983,"y":989,"n":1},{"x":934,"y":951,"n":1},{"x":901,"y":932,"n":1},{"x":868,"y":951,"n":1},{"x":827,"y":932,"n":1},{"x":794,"y":895,"n":1},{"x":777,"y":932,"n":1},{"x":744,"y":951,"n":1},{"x":720,"y":970,"n":1},{"x":695,"y":951,"n":1},{"x":703,"y":895,"n":1},{"x":744,"y":895,"n":1},{"x":769,"y":858,"n":1},{"x":736,"y":839,"n":1},{"x":687,"y":858,"n":1},{"x":654,"y":858,"n":1},{"x":621,"y":858,"n":1},{"x":596,"y":839,"n":1},{"x":637,"y":801,"n":1},{"x":670,"y":801,"n":1},{"x":720,"y":801,"n":1},{"x":579,"y":764,"n":1},{"x":604,"y":745,"n":1},{"x":546,"y":726,"n":1},{"x":513,"y":689,"n":1},{"x":563,"y":670,"n":1},{"x":530,"y":633,"n":1},
{"x":620,"y":684,"n":2},{"x":623,"y":722,"n":1},{"x":618,"y":771,"n":1},{"x":641,"y":703,"n":1},{"x":638,"y":758,"n":2},{"x":644,"y":804,"n":2},{"x":662,"y":692,"n":1},{"x":659,"y":749,"n":2},{"x":663,"y":793,"n":1},{"x":681,"y":724,"n":2},{"x":678,"y":782,"n":1},{"x":684,"y":833,"n":1},{"x":702,"y":758,"n":1},{"x":699,"y":803,"n":3},{"x":704,"y":852,"n":1},{"x":718,"y":742,"n":1},{"x":722,"y":788,"n":2},{"x":719,"y":861,"n":1},{"x":742,"y":783,"n":2},{"x":739,"y":829,"n":1},{"x":744,"y":878,"n":1},{"x":761,"y":802,"n":1},{"x":758,"y":842,"n":2},{"x":763,"y":903,"n":1},{"x":782,"y":812,"n":1},{"x":778,"y":868,"n":2},{"x":784,"y":921,"n":1},{"x":801,"y":833,"n":2},{"x":798,"y":878,"n":1},{"x":803,"y":958,"n":1},{"x":822,"y":862,"n":1},{"x":818,"y":912,"n":2},{"x":824,"y":971,"n":1},{"x":841,"y":878,"n":1},{"x":838,"y":933,"n":2},{"x":843,"y":1002,"n":1},{"x":862,"y":903,"n":1},{"x":858,"y":958,"n":2},{"x":864,"y":1021,"n":1},{"x":881,"y":922,"n":1},{"x":878,"y":982,"n":2},{"x":883,"y":1048,"n":1},{"x":902,"y":948,"n":1},{"x":899,"y":1012,"n":2},{"x":904,"y":1062,"n":1},{"x":921,"y":983,"n":1},{"x":918,"y":1028,"n":1},{"x":923,"y":1092,"n":1},{"x":942,"y":991,"n":1},{"x":939,"y":1052,"n":2},{"x":944,"y":1108,"n":1},{"x":961,"y":1013,"n":1},{"x":958,"y":1068,"n":2},{"x":963,"y":1133,"n":1},{"x":982,"y":1042,"n":1},{"x":979,"y":1092,"n":2},{"x":984,"y":1148,"n":1},{"x":1001,"y":1052,"n":1},{"x":998,"y":1108,"n":2},{"x":1003,"y":1172,"n":1},{"x":1022,"y":1078,"n":1},{"x":1019,"y":1133,"n":2},{"x":1041,"y":1103,"n":1},{"x":1039,"y":1158,"n":2},{"x":1044,"y":1212,"n":1},{"x":1062,"y":1122,"n":1},{"x":1059,"y":1182,"n":2},{"x":1081,"y":1128,"n":1},{"x":1078,"y":1203,"n":2},{"x":1084,"y":1258,"n":1},{"x":1102,"y":1152,"n":1},{"x":1099,"y":1218,"n":2},{"x":1121,"y":1183,"n":1},{"x":1118,"y":1238,"n":1},{"x":1124,"y":1292,"n":1},{"x":1142,"y":1208,"n":1},{"x":1139,"y":1263,"n":2},{"x":1161,"y":1228,"n":1},{"x":1158,"y":1288,"n":2},{"x":1164,"y":1342,"n":1},{"x":1182,"y":1252,"n":1},{"x":1179,"y":1308,"n":2},{"x":1201,"y":1282,"n":1},{"x":1198,"y":1338,"n":2},{"x":1204,"y":1402,"n":1},{"x":1222,"y":1298,"n":1},{"x":1219,"y":1372,"n":1},{"x":1241,"y":1332,"n":1},{"x":1238,"y":1388,"n":2},{"x":1244,"y":1442,"n":1},{"x":1262,"y":1348,"n":1},{"x":1259,"y":1422,"n":2},{"x":1281,"y":1382,"n":1},{"x":1278,"y":1438,"n":2},{"x":1284,"y":1492,"n":1},{"x":1302,"y":1408,"n":1},{"x":1299,"y":1472,"n":1},{"x":1321,"y":1432,"n":1},{"x":1318,"y":1498,"n":2},{"x":1324,"y":1552,"n":1},{"x":1342,"y":1458,"n":1},{"x":1339,"y":1522,"n":2},{"x":1361,"y":1492,"n":1},{"x":1358,"y":1558,"n":1},{"x":1382,"y":1508,"n":1},{"x":1379,"y":1582,"n":1},{"x":1384,"y":1632,"n":1},{"x":1401,"y":1542,"n":1},{"x":1398,"y":1608,"n":1},{"x":1422,"y":1568,"n":1},{"x":1418,"y":1642,"n":1},{"x":1441,"y":1602,"n":1},{"x":1438,"y":1658,"n":1},{"x":1444,"y":1712,"n":1},{"x":1462,"y":1618,"n":1},{"x":1459,"y":1692,"n":1},{"x":1481,"y":1652,"n":1},{"x":1478,"y":1718,"n":1},{"x":1502,"y":1678,"n":1},{"x":1499,"y":1752,"n":1},{"x":1521,"y":1712,"n":1},{"x":1518,"y":1778,"n":1},{"x":1541,"y":1728,"n":1},{"x":1539,"y":1802,"n":1},{"x":1561,"y":1762,"n":1},{"x":1558,"y":1828,"n":1},{"x":1582,"y":1788,"n":1},{"x":1579,"y":1862,"n":1},{"x":1601,"y":1822,"n":1},{"x":1599,"y":1878,"n":1},{"x":1632,"y":1848,"n":1},{"x":1628,"y":1922,"n":1},{"x":1661,"y":1892,"n":1},{"x":1658,"y":1958,"n":1},{"x":1692,"y":1928,"n":1},{"x":1689,"y":2002,"n":1},{"x":1721,"y":1972,"n":1},{"x":1718,"y":2038,"n":1},{"x":1752,"y":2008,"n":1},{"x":1749,"y":2092,"n":1},{"x":1781,"y":2052,"n":1},{"x":1778,"y":2128,"n":1},{"x":1812,"y":2098,"n":1},{"x":1809,"y":2182,"n":1},{"x":1841,"y":2152,"n":1},{"x":1838,"y":2228,"n":1},{"x":1871,"y":2202,"n":1},{"x":1902,"y":2238,"n":1},{"x":1931,"y":2292,"n":1},
{"x":560,"y":620,"n":1},{"x":575,"y":700,"n":1},{"x":590,"y":640,"n":1},{"x":600,"y":760,"n":1},{"x":615,"y":650,"n":1},{"x":630,"y":790,"n":1},{"x":650,"y":680,"n":1},{"x":665,"y":830,"n":1},{"x":680,"y":690,"n":1},{"x":695,"y":870,"n":1},{"x":710,"y":730,"n":1},{"x":725,"y":900,"n":1},{"x":740,"y":760,"n":1},{"x":755,"y":930,"n":1},{"x":770,"y":770,"n":1},{"x":785,"y":960,"n":1},{"x":800,"y":800,"n":1},{"x":815,"y":1000,"n":1},{"x":830,"y":850,"n":1},{"x":845,"y":1030,"n":1},{"x":860,"y":880,"n":1},{"x":875,"y":1060,"n":1},{"x":890,"y":900,"n":1},{"x":905,"y":1090,"n":1},{"x":920,"y":950,"n":1},{"x":935,"y":1130,"n":1},{"x":950,"y":960,"n":1},{"x":965,"y":1160,"n":1},{"x":980,"y":1010,"n":1},{"x":995,"y":1200,"n":1},{"x":1010,"y":1040,"n":1},{"x":1025,"y":1220,"n":1},{"x":1040,"y":1060,"n":1},{"x":1055,"y":1250,"n":1},{"x":1070,"y":1100,"n":1},{"x":1085,"y":1290,"n":1},{"x":1100,"y":1120,"n":1},{"x":1115,"y":1320,"n":1},{"x":1130,"y":1160,"n":1},{"x":1145,"y":1350,"n":1},{"x":1160,"y":1190,"n":1},{"x":1175,"y":1380,"n":1},{"x":1190,"y":1220,"n":1},{"x":1205,"y":1430,"n":1},{"x":1220,"y":1260,"n":1},{"x":1235,"y":1460,"n":1},{"x":1250,"y":1290,"n":1},{"x":1265,"y":1500,"n":1},{"x":1280,"y":1330,"n":1},{"x":1295,"y":1520,"n":1},{"x":1310,"y":1360,"n":1},{"x":1325,"y":1580,"n":1},{"x":1340,"y":1400,"n":1},{"x":1355,"y":1610,"n":1},{"x":1370,"y":1430,"n":1},{"x":1385,"y":1650,"n":1},{"x":1400,"y":1470,"n":1},{"x":1415,"y":1680,"n":1},{"x":1430,"y":1520,"n":1},{"x":1445,"y":1730,"n":1},{"x":1460,"y":1560,"n":1},{"x":1475,"y":1770,"n":1},{"x":1490,"y":1600,"n":1},{"x":1505,"y":1810,"n":1},{"x":1520,"y":1650,"n":1},{"x":1535,"y":1840,"n":1},{"x":1550,"y":1680,"n":1},{"x":1565,"y":1880,"n":1},{"x":1580,"y":1730,"n":1},{"x":1600,"y":1920,"n":1},{"x":1620,"y":1780,"n":1},{"x":1640,"y":1960,"n":1},{"x":1660,"y":1830,"n":1},{"x":1680,"y":2030,"n":1},{"x":1700,"y":1860,"n":1},{"x":1720,"y":2080,"n":1},{"x":1745,"y":1950,"n":1},{"x":1765,"y":2140,"n":1},{"x":1790,"y":2000,"n":1},{"x":1815,"y":2220,"n":1},{"x":1840,"y":2060,"n":1},{"x":1865,"y":2280,"n":1},{"x":1890,"y":2120,"n":1},{"x":1915,"y":2340,"n":1},{"x":1950,"y":2180,"n":1},{"x":1980,"y":2350,"n":1},{"x":2010,"y":2260,"n":1},{"x":2040,"y":2420,"n":1},{"x":2070,"y":2330,"n":1},{"x":2100,"y":2500,"n":1},
{"x":250,"y":800,"n":1},{"x":280,"y":900,"n":1},{"x":340,"y":1050,"n":1},{"x":370,"y":1120,"n":1},{"x":420,"y":1230,"n":1},{"x":460,"y":1360,"n":1},{"x":500,"y":1170,"n":1},{"x":540,"y":1240,"n":1},{"x":580,"y":1420,"n":1},{"x":620,"y":1480,"n":1},{"x":650,"y":1180,"n":1},{"x":690,"y":1600,"n":1},{"x":700,"y":1130,"n":1},{"x":760,"y":1540,"n":1},{"x":790,"y":1300,"n":1},{"x":830,"y":1200,"n":1},{"x":860,"y":1380,"n":1},{"x":900,"y":1500,"n":1},{"x":930,"y":1720,"n":1},{"x":980,"y":1640,"n":1},{"x":1040,"y":1580,"n":1},{"x":1080,"y":1780,"n":1},{"x":1130,"y":1640,"n":1},{"x":1170,"y":1970,"n":1},{"x":1220,"y":1900,"n":1},{"x":1290,"y":1820,"n":1},{"x":1340,"y":1950,"n":1},{"x":1400,"y":1980,"n":1},{"x":1450,"y":2100,"n":1},{"x":1500,"y":2230,"n":1},{"x":1550,"y":2340,"n":1},{"x":1600,"y":2430,"n":1},{"x":1640,"y":2530,"n":1},{"x":1680,"y":2620,"n":1},{"x":1730,"y":2580,"n":1},{"x":1780,"y":2700,"n":1},{"x":1820,"y":2760,"n":1},{"x":1870,"y":2810,"n":1},{"x":1930,"y":2750,"n":1},{"x":1980,"y":2870,"n":1},{"x":2020,"y":2950,"n":1},{"x":2080,"y":2960,"n":1},{"x":700,"y":2000,"n":1},{"x":780,"y":2080,"n":1},{"x":860,"y":1900,"n":1},{"x":950,"y":2000,"n":1},{"x":1050,"y":2060,"n":1},{"x":1130,"y":2280,"n":1},{"x":1290,"y":2230,"n":1},{"x":1400,"y":2300,"n":1},{"x":1520,"y":2480,"n":1},{"x":1600,"y":2560,"n":1},{"x":2150,"y":2700,"n":1},{"x":2200,"y":2780,"n":1},{"x":2230,"y":2830,"n":1},{"x":2280,"y":2900,"n":1},{"x":2340,"y":3000,"n":1},{"x":2400,"y":3130,"n":1},{"x":2450,"y":3180,"n":1},{"x":2480,"y":3250,"n":1},{"x":2530,"y":3300,"n":1},{"x":2580,"y":3360,"n":1},{"x":2620,"y":3450,"n":1},{"x":2660,"y":3500,"n":1},{"x":2700,"y":3620,"n":1},{"x":2760,"y":3700,"n":1},{"x":2800,"y":3800,"n":1},{"x":2860,"y":3880,"n":1},{"x":2910,"y":3950,"n":1},{"x":2990,"y":4080,"n":1},{"x":3060,"y":4200,"n":1},{"x":3150,"y":4390,"n":1},{"x":3230,"y":4500,"n":1},{"x":3300,"y":4620,"n":1},{"x":3400,"y":4850,"n":1},
{"x":266,"y":202,"n":1},{"x":324,"y":183,"n":1},{"x":381,"y":202,"n":1},{"x":423,"y":202,"n":1},{"x":452,"y":172,"n":1},{"x":489,"y":232,"n":1},{"x":497,"y":183,"n":1},{"x":538,"y":247,"n":1},{"x":555,"y":202,"n":1},{"x":588,"y":258,"n":1},{"x":604,"y":202,"n":1},{"x":645,"y":232,"n":1},{"x":654,"y":202,"n":1},{"x":703,"y":232,"n":1},{"x":720,"y":183,"n":1},{"x":736,"y":333,"n":1},{"x":753,"y":258,"n":1},{"x":769,"y":202,"n":1},{"x":785,"y":240,"n":1},{"x":802,"y":333,"n":1},{"x":827,"y":183,"n":1},{"x":851,"y":240,"n":1},{"x":884,"y":333,"n":1},{"x":901,"y":202,"n":1},{"x":934,"y":183,"n":1},{"x":959,"y":240,"n":1},{"x":983,"y":202,"n":1},{"x":1000,"y":315,"n":2},{"x":1000,"y":258,"n":2},{"x":1016,"y":240,"n":1},{"x":1058,"y":202,"n":1},{"x":1091,"y":427,"n":1},{"x":1091,"y":258,"n":1},{"x":1132,"y":183,"n":1},{"x":1165,"y":221,"n":1},{"x":1198,"y":240,"n":1},{"x":1157,"y":390,"n":1},{"x":1214,"y":390,"n":1},{"x":1247,"y":397,"n":1},{"x":1272,"y":258,"n":1},{"x":1297,"y":258,"n":1},{"x":1338,"y":352,"n":1},{"x":1387,"y":483,"n":1},{"x":1412,"y":408,"n":1},{"x":1396,"y":277,"n":1},{"x":1445,"y":296,"n":1},{"x":1486,"y":434,"n":1},{"x":1511,"y":520,"n":1},{"x":1519,"y":457,"n":1},{"x":1552,"y":446,"n":1},{"x":1560,"y":240,"n":1},{"x":1577,"y":602,"n":1},{"x":1593,"y":408,"n":1},{"x":1610,"y":296,"n":1},{"x":1651,"y":535,"n":1},{"x":1668,"y":483,"n":1},{"x":1676,"y":277,"n":1},{"x":1701,"y":277,"n":1},{"x":1734,"y":333,"n":1},{"x":1758,"y":464,"n":1},{"x":1791,"y":633,"n":1},{"x":1824,"y":505,"n":1},{"x":1857,"y":558,"n":1},{"x":1775,"y":240,"n":1},{"x":572,"y":215,"n":1},{"x":618,"y":250,"n":1},{"x":672,"y":190,"n":1},{"x":698,"y":172,"n":1},{"x":745,"y":212,"n":1},{"x":812,"y":265,"n":1},{"x":868,"y":195,"n":1},{"x":915,"y":268,"n":1},{"x":1040,"y":178,"n":1},{"x":1112,"y":225,"n":1},{"x":1185,"y":198,"n":1},{"x":1232,"y":268,"n":1},{"x":1310,"y":215,"n":1},{"x":1352,"y":248,"n":1},{"x":1428,"y":215,"n":1},{"x":1470,"y":268,"n":1},
{"x":1909,"y":764,"n":1},{"x":1947,"y":741,"n":1},{"x":1952,"y":689,"n":1},{"x":2079,"y":708,"n":1},{"x":2048,"y":640,"n":1},{"x":2024,"y":520,"n":1},{"x":2000,"y":532,"n":1},{"x":1952,"y":584,"n":1},{"x":1971,"y":569,"n":1},{"x":1904,"y":397,"n":1},{"x":1868,"y":558,"n":1},{"x":1820,"y":502,"n":1},{"x":1856,"y":509,"n":1},{"x":2144,"y":607,"n":2},{"x":2168,"y":528,"n":1},{"x":2211,"y":427,"n":1},{"x":2036,"y":382,"n":1},{"x":2060,"y":371,"n":1},{"x":2096,"y":344,"n":1},{"x":2127,"y":337,"n":1},{"x":2232,"y":337,"n":1},{"x":1909,"y":303,"n":1},{"x":2031,"y":303,"n":1},{"x":1933,"y":191,"n":1},{"x":2211,"y":191,"n":1},{"x":2324,"y":240,"n":1},{"x":2352,"y":270,"n":1},{"x":2340,"y":408,"n":1},{"x":2271,"y":839,"n":1},{"x":2192,"y":831,"n":1},{"x":2422,"y":921,"n":1},{"x":2067,"y":932,"n":1},{"x":1851,"y":1067,"n":1},{"x":1971,"y":1348,"n":1},{"x":2100,"y":1337,"n":1},{"x":2048,"y":1494,"n":1},{"x":2662,"y":1472,"n":1},{"x":2422,"y":764,"n":1},{"x":2451,"y":652,"n":1},{"x":2491,"y":640,"n":1},{"x":2503,"y":621,"n":1},{"x":2515,"y":652,"n":1},{"x":2520,"y":726,"n":1},{"x":2539,"y":726,"n":1},{"x":2523,"y":633,"n":1},{"x":2571,"y":569,"n":1},{"x":2551,"y":539,"n":1},{"x":2580,"y":756,"n":1},{"x":2595,"y":764,"n":1},{"x":2611,"y":681,"n":1},{"x":2652,"y":681,"n":1},{"x":2642,"y":621,"n":1},{"x":2714,"y":809,"n":1},{"x":2714,"y":711,"n":1},{"x":2731,"y":711,"n":1},{"x":2779,"y":711,"n":1},{"x":2791,"y":741,"n":1},{"x":2724,"y":989,"n":2},{"x":2873,"y":1101,"n":1},{"x":2911,"y":977,"n":1},{"x":2928,"y":1022,"n":1},{"x":2911,"y":876,"n":1},{"x":2952,"y":839,"n":1},{"x":2952,"y":801,"n":1},{"x":2952,"y":738,"n":1},{"x":2952,"y":640,"n":1},{"x":3031,"y":854,"n":1},{"x":3132,"y":741,"n":1},{"x":3213,"y":764,"n":1},{"x":3232,"y":944,"n":1},{"x":3431,"y":921,"n":1},{"x":3441,"y":786,"n":1},{"x":3280,"y":550,"n":1},{"x":2882,"y":1269,"n":1},{"x":3103,"y":1247,"n":2},{"x":3213,"y":1180,"n":1},{"x":3321,"y":1247,"n":1},{"x":3391,"y":1337,"n":1},{"x":3391,"y":1494,"n":1},{"x":3422,"y":1640,"n":1},{"x":2990,"y":1674,"n":1},{"x":3057,"y":1764,"n":1},{"x":3311,"y":1797,"n":1},{"x":3398,"y":1910,"n":1},{"x":2772,"y":2101,"n":1},{"x":2712,"y":1977,"n":1},{"x":3868,"y":2224,"n":1},{"x":3969,"y":2224,"n":1},{"x":4055,"y":1842,"n":1},{"x":4151,"y":1898,"n":1},{"x":4419,"y":1775,"n":1},{"x":4441,"y":1696,"n":1},{"x":4321,"y":1314,"n":1},{"x":4573,"y":1371,"n":1},{"x":3662,"y":1730,"n":1},{"x":4153,"y":1449,"n":2},{"x":3772,"y":1236,"n":1},{"x":3930,"y":1236,"n":1},{"x":4093,"y":1213,"n":1},{"x":4172,"y":618,"n":1},{"x":4074,"y":337,"n":1},{"x":4702,"y":2168,"n":1},{"x":5017,"y":2179,"n":1},{"x":4913,"y":2075,"n":1},{"x":5252,"y":2011,"n":1},{"x":4633,"y":2606,"n":1},{"x":4458,"y":2663,"n":1},{"x":4973,"y":2809,"n":1},{"x":5053,"y":2696,"n":1},{"x":5103,"y":2977,"n":1},{"x":5014,"y":3134,"n":1},{"x":4542,"y":3033,"n":1},{"x":4630,"y":3157,"n":1},{"x":5352,"y":3247,"n":1},
{"x":409,"y":970,"n":2},{"x":447,"y":989,"n":1},{"x":480,"y":970,"n":1},{"x":521,"y":981,"n":1},{"x":546,"y":996,"n":1},{"x":348,"y":914,"n":1},{"x":381,"y":884,"n":1},{"x":439,"y":932,"n":1},{"x":472,"y":914,"n":1},{"x":513,"y":895,"n":1},{"x":546,"y":876,"n":1},{"x":274,"y":745,"n":1},{"x":307,"y":820,"n":1},{"x":323,"y":764,"n":1},{"x":364,"y":801,"n":1},{"x":389,"y":745,"n":1},{"x":422,"y":801,"n":1},{"x":455,"y":764,"n":1},{"x":488,"y":820,"n":1},{"x":521,"y":764,"n":1},{"x":554,"y":801,"n":1},{"x":208,"y":708,"n":1},{"x":233,"y":614,"n":1},{"x":290,"y":670,"n":1},{"x":332,"y":689,"n":1},{"x":356,"y":614,"n":1},{"x":397,"y":651,"n":1},{"x":430,"y":689,"n":1},{"x":84,"y":708,"n":1},{"x":59,"y":607,"n":1},{"x":89,"y":621,"n":1},{"x":167,"y":520,"n":1},{"x":142,"y":445,"n":1},{"x":117,"y":382,"n":1},{"x":200,"y":633,"n":1},{"x":175,"y":577,"n":1},{"x":266,"y":577,"n":1},{"x":299,"y":558,"n":1},{"x":191,"y":183,"n":1},{"x":216,"y":172,"n":1},{"x":266,"y":183,"n":1},{"x":332,"y":183,"n":1},{"x":348,"y":232,"n":1},{"x":323,"y":258,"n":1},{"x":373,"y":314,"n":1},{"x":397,"y":333,"n":1},{"x":439,"y":371,"n":1},{"x":472,"y":389,"n":1},{"x":505,"y":408,"n":1},{"x":546,"y":445,"n":1},{"x":348,"y":221,"n":1},{"x":389,"y":172,"n":1},{"x":447,"y":172,"n":1},{"x":488,"y":202,"n":1}
],"core":[
{"x":50,"y":150,"n":8},{"x":85,"y":150,"n":20},{"x":120,"y":150,"n":12},{"x":155,"y":150,"n":6},{"x":190,"y":150,"n":3},{"x":50,"y":180,"n":22},{"x":85,"y":180,"n":46},{"x":120,"y":180,"n":44},{"x":155,"y":180,"n":24},{"x":190,"y":180,"n":8},{"x":225,"y":180,"n":3},{"x":50,"y":230,"n":10},{"x":85,"y":230,"n":25},{"x":120,"y":230,"n":35},{"x":155,"y":230,"n":33},{"x":190,"y":230,"n":14},{"x":225,"y":230,"n":6},{"x":260,"y":230,"n":3},{"x":50,"y":280,"n":3},{"x":85,"y":280,"n":8},{"x":120,"y":280,"n":20},{"x":155,"y":280,"n":25},{"x":190,"y":280,"n":22},{"x":225,"y":280,"n":10},{"x":260,"y":280,"n":5},{"x":295,"y":280,"n":3},{"x":85,"y":330,"n":3},{"x":120,"y":330,"n":8},{"x":155,"y":330,"n":14},{"x":190,"y":330,"n":18},{"x":225,"y":330,"n":16},{"x":260,"y":330,"n":8},{"x":295,"y":330,"n":5},{"x":330,"y":330,"n":2},{"x":120,"y":380,"n":3},{"x":155,"y":380,"n":6},{"x":190,"y":380,"n":10},{"x":225,"y":380,"n":13},{"x":260,"y":380,"n":12},{"x":295,"y":380,"n":8},{"x":330,"y":380,"n":4},{"x":365,"y":380,"n":2},{"x":155,"y":430,"n":3},{"x":190,"y":430,"n":5},{"x":225,"y":430,"n":8},{"x":260,"y":430,"n":10},{"x":295,"y":430,"n":10},{"x":330,"y":430,"n":8},{"x":365,"y":430,"n":5},{"x":400,"y":430,"n":3},{"x":190,"y":480,"n":2},{"x":225,"y":480,"n":4},{"x":260,"y":480,"n":6},{"x":295,"y":480,"n":8},{"x":330,"y":480,"n":9},{"x":365,"y":480,"n":8},{"x":400,"y":480,"n":6},{"x":435,"y":480,"n":3},{"x":225,"y":530,"n":2},{"x":260,"y":530,"n":3},{"x":295,"y":530,"n":5},{"x":330,"y":530,"n":6},{"x":365,"y":530,"n":7},{"x":400,"y":530,"n":7},{"x":435,"y":530,"n":5},{"x":470,"y":530,"n":3},{"x":295,"y":580,"n":2},{"x":330,"y":580,"n":3},{"x":365,"y":580,"n":5},{"x":400,"y":580,"n":6},{"x":435,"y":580,"n":6},{"x":470,"y":580,"n":5},{"x":505,"y":580,"n":3},{"x":330,"y":630,"n":2},{"x":365,"y":630,"n":2},{"x":400,"y":630,"n":4},{"x":435,"y":630,"n":5},{"x":470,"y":630,"n":5},{"x":505,"y":630,"n":5},{"x":540,"y":630,"n":3},{"x":400,"y":680,"n":2},{"x":435,"y":680,"n":3},{"x":470,"y":680,"n":4},{"x":505,"y":680,"n":4},{"x":540,"y":680,"n":4},{"x":575,"y":680,"n":3},{"x":610,"y":680,"n":2},{"x":470,"y":730,"n":2},{"x":505,"y":730,"n":3},{"x":540,"y":730,"n":3},{"x":575,"y":730,"n":3},{"x":610,"y":730,"n":3},{"x":645,"y":730,"n":2}
]},"hconcat":[{"width":1427,"height":712,"resolve":{"axis":{"x":"independent","y":"independent"}},"layer":[{"data":{"name":"cells"},"mark":{"type":"rect","width":2.8,"height":1.7},"encoding":{"x":{"field":"x","type":"quantitative","scale":{"domain":[38,7100],"nice":false,"zero":false},"axis":{"values":[1000,2000,3000,4000,5000,6000,7000],"tickSize":-22,"labelPadding":26.5,"labelOverlap":false,"labelFlush":false,"title":"Energy (keV) - Phonon","titleAnchor":"end","titleAlign":"right","titleX":1408,"titleY":63,"titleBaseline":"bottom"}},"y":{"field":"y","type":"quantitative","scale":{"domain":[67,8070],"nice":false,"zero":false},"axis":{"values":[1000,2000,3000,4000,5000,6000,7000,8000],"tickSize":-43,"labelPadding":53,"labelOverlap":false,"title":"Energy (eV) - Light","titleAnchor":"end","titleX":-116,"titleY":0,"titleAlign":"right","titleBaseline":"top"}},"color":{"field":"n","type":"quantitative","legend":null,"scale":{"type":"quantize","domain":[0,49],"range":["#283AA8","#1850C8","#1266DC","#156CD8","#1880D2","#0E8FCC","#0C9FCA","#10A8BF","#20ADAE","#34B7A4","#58B88F","#78BC80","#98BF74","#B2BA66","#CFB95D","#E0B84C","#F3C23A","#FDD024","#FBE11B","#FBFA0E"]}}}},{"data":{"name":"core"},"mark":{"type":"rect","width":7.2,"height":4.6},"encoding":{"x":{"field":"x","type":"quantitative","axis":null},"y":{"field":"y","type":"quantitative","axis":null},"color":{"field":"n","type":"quantitative","legend":null,"scale":{"type":"quantize","domain":[0,49],"range":["#283AA8","#1850C8","#1266DC","#156CD8","#1880D2","#0E8FCC","#0C9FCA","#10A8BF","#20ADAE","#34B7A4","#58B88F","#78BC80","#98BF74","#B2BA66","#CFB95D","#E0B84C","#F3C23A","#FDD024","#FBE11B","#FBFA0E"]}}}},{"data":{"values":[{"x":2095,"y":2655,"label":"β/γ"},{"x":2300,"y":599,"label":"n"},{"x":4747,"y":2210,"label":"6Li(n, α)3H"}]},"mark":{"type":"text","font":"DejaVu Sans","fontSize":53,"color":"black"},"encoding":{"x":{"field":"x","type":"quantitative","axis":{"orient":"bottom","values":[200,400,600,800,1200,1400,1600,1800,2200,2400,2600,2800,3200,3400,3600,3800,4200,4400,4600,4800,5200,5400,5600,5800,6200,6400,6600,6800],"tickSize":-11,"labels":false,"domain":false,"title":null}},"y":{"field":"y","type":"quantitative","axis":{"orient":"left","values":[200,400,600,800,1200,1400,1600,1800,2200,2400,2600,2800,3200,3400,3600,3800,4200,4400,4600,4800,5200,5400,5600,5800,6200,6400,6600,6800,7200,7400,7600,7800],"tickSize":-21,"labels":false,"domain":false,"title":null}},"text":{"field":"label"}}}]},{"width":80,"height":712,"view":{"stroke":null},"data":{"values":[{"a":0,"b":2.45,"c":1.2},{"a":2.45,"b":4.9,"c":3.6},{"a":4.9,"b":7.35,"c":6.1},{"a":7.35,"b":9.8,"c":8.6},{"a":9.8,"b":12.25,"c":11},{"a":12.25,"b":14.7,"c":13.5},{"a":14.7,"b":17.15,"c":15.9},{"a":17.15,"b":19.6,"c":18.4},{"a":19.6,"b":22.05,"c":20.8},{"a":22.05,"b":24.5,"c":23.3},{"a":24.5,"b":26.95,"c":25.7},{"a":26.95,"b":29.4,"c":28.2},{"a":29.4,"b":31.85,"c":30.6},{"a":31.85,"b":34.3,"c":33.1},{"a":34.3,"b":36.75,"c":35.5},{"a":36.75,"b":39.2,"c":38},{"a":39.2,"b":41.65,"c":40.4},{"a":41.65,"b":44.1,"c":42.9},{"a":44.1,"b":46.55,"c":45.3},{"a":46.55,"b":49,"c":47.8}]},"mark":{"type":"rect"},"encoding":{"y":{"field":"a","type":"quantitative","scale":{"domain":[0,49],"nice":false,"zero":false},"axis":{"orient":"right","values":[0,5,10,15,20,25,30,35,40,45],"tickSize":-43,"labelPadding":51,"title":null,"labelOverlap":false,"domain":true}},"y2":{"field":"b"},"color":{"field":"c","type":"quantitative","legend":null,"scale":{"type":"quantize","domain":[0,49],"range":["#283AA8","#1850C8","#1266DC","#156CD8","#1880D2","#0E8FCC","#0C9FCA","#10A8BF","#20ADAE","#34B7A4","#58B88F","#78BC80","#98BF74","#B2BA66","#CFB95D","#E0B84C","#F3C23A","#FDD024","#FBE11B","#FBFA0E"]}}}}]}
